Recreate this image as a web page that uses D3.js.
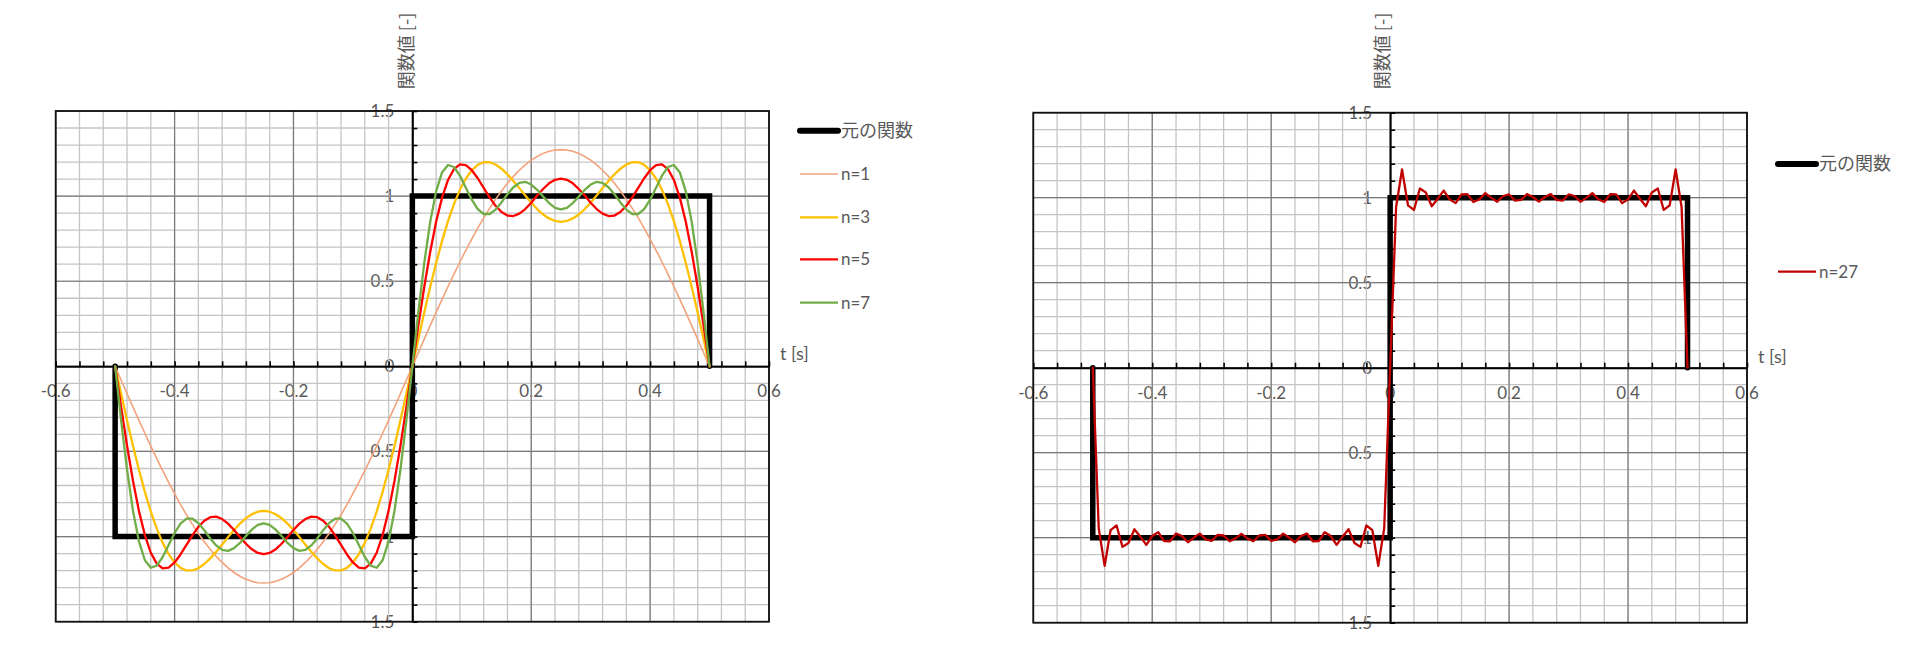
<!DOCTYPE html>
<html><head><meta charset="utf-8">
<script src="https://cdn.jsdelivr.net/npm/d3@7/dist/d3.min.js"></script>
<style>
body{margin:0;background:#fff;}
text{font-family:Lato,"Noto Sans CJK JP",sans-serif;fill:#595959;}
.jp{font-family:"Noto Sans CJK JP",sans-serif;}
</style>
</head><body>
<svg id="c" width="1920" height="653"></svg>
<script>
// ---------------- data ----------------
const tValues = [-0.5,-0.49,-0.48,-0.47,-0.46,-0.45,-0.44,-0.43,-0.42,-0.41,-0.4,-0.39,-0.38,-0.37,-0.36,-0.35,-0.34,-0.33,-0.32,-0.31,-0.3,-0.29,-0.28,-0.27,-0.26,-0.25,-0.24,-0.23,-0.22,-0.21,-0.2,-0.19,-0.18,-0.17,-0.16,-0.15,-0.14,-0.13,-0.12,-0.11,-0.1,-0.09,-0.08,-0.07,-0.06,-0.05,-0.04,-0.03,-0.02,-0.01,
0,0.01,0.02,0.03,0.04,0.05,0.06,0.07,0.08,0.09,0.1,0.11,0.12,0.13,0.14,0.15,0.16,0.17,0.18,0.19,0.2,0.21,0.22,0.23,0.24,0.25,0.26,0.27,0.28,0.29,0.3,0.31,0.32,0.33,0.34,0.35,0.36,0.37,0.38,0.39,0.4,0.41,0.42,0.43,0.44,0.45,0.46,0.47,0.48,0.49,0.5];

const originalT = [-0.5,-0.5,0,0,0.5,0.5];
const originalY = [0,-1,-1,1,1,0];

const n1 = [0,-0.080,-0.160,-0.239,-0.317,-0.393,-0.469,-0.542,-0.613,-0.682,-0.748,-0.812,-0.872,-0.928,-0.981,-1.030,-1.075,-1.116,-1.152,-1.184,-1.211,-1.233,-1.251,-1.263,-1.271,-1.273,-1.271,-1.263,-1.251,-1.233,-1.211,-1.184,-1.152,-1.116,-1.075,-1.030,-0.981,-0.928,-0.872,-0.812,-0.748,-0.682,-0.613,-0.542,-0.469,-0.393,-0.317,-0.239,-0.160,-0.080,
0,0.080,0.160,0.239,0.317,0.393,0.469,0.542,0.613,0.682,0.748,0.812,0.872,0.928,0.981,1.030,1.075,1.116,1.152,1.184,1.211,1.233,1.251,1.263,1.271,1.273,1.271,1.263,1.251,1.233,1.211,1.184,1.152,1.116,1.075,1.030,0.981,0.928,0.872,0.812,0.748,0.682,0.613,0.542,0.469,0.393,0.317,0.239,0.160,0.080,0];

const n3 = [0,-0.159,-0.316,-0.466,-0.607,-0.737,-0.853,-0.953,-1.037,-1.103,-1.152,-1.184,-1.199,-1.199,-1.186,-1.161,-1.128,-1.089,-1.047,-1.003,-0.961,-0.924,-0.892,-0.869,-0.854,-0.849,-0.854,-0.869,-0.892,-0.924,-0.961,-1.003,-1.047,-1.089,-1.128,-1.161,-1.186,-1.199,-1.199,-1.184,-1.152,-1.103,-1.037,-0.953,-0.853,-0.737,-0.607,-0.466,-0.316,-0.159,
0,0.159,0.316,0.466,0.607,0.737,0.853,0.953,1.037,1.103,1.152,1.184,1.199,1.199,1.186,1.161,1.128,1.089,1.047,1.003,0.961,0.924,0.892,0.869,0.854,0.849,0.854,0.869,0.892,0.924,0.961,1.003,1.047,1.089,1.128,1.161,1.186,1.199,1.199,1.184,1.152,1.103,1.037,0.953,0.853,0.737,0.607,0.466,0.316,0.159,0];

const n5 = [0,-0.238,-0.466,-0.672,-0.849,-0.991,-1.095,-1.159,-1.187,-1.182,-1.152,-1.105,-1.049,-0.993,-0.943,-0.907,-0.886,-0.883,-0.897,-0.924,-0.961,-1.003,-1.042,-1.075,-1.096,-1.103,-1.096,-1.075,-1.042,-1.003,-0.961,-0.924,-0.897,-0.883,-0.886,-0.907,-0.943,-0.993,-1.049,-1.105,-1.152,-1.182,-1.187,-1.159,-1.095,-0.991,-0.849,-0.672,-0.466,-0.238,
0,0.238,0.466,0.672,0.849,0.991,1.095,1.159,1.187,1.182,1.152,1.105,1.049,0.993,0.943,0.907,0.886,0.883,0.897,0.924,0.961,1.003,1.042,1.075,1.096,1.103,1.096,1.075,1.042,1.003,0.961,0.924,0.897,0.883,0.886,0.907,0.943,0.993,1.049,1.105,1.152,1.182,1.187,1.159,1.095,0.991,0.849,0.672,0.466,0.238,0];

const n7 = [0,-0.316,-0.606,-0.848,-1.028,-1.139,-1.183,-1.171,-1.120,-1.049,-0.979,-0.924,-0.895,-0.895,-0.921,-0.963,-1.011,-1.052,-1.078,-1.084,-1.068,-1.037,-0.997,-0.959,-0.931,-0.922,-0.931,-0.959,-0.997,-1.037,-1.068,-1.084,-1.078,-1.052,-1.011,-0.963,-0.921,-0.895,-0.895,-0.924,-0.979,-1.049,-1.120,-1.171,-1.183,-1.139,-1.028,-0.848,-0.606,-0.316,
0,0.316,0.606,0.848,1.028,1.139,1.183,1.171,1.120,1.049,0.979,0.924,0.895,0.895,0.921,0.963,1.011,1.052,1.078,1.084,1.068,1.037,0.997,0.959,0.931,0.922,0.931,0.959,0.997,1.037,1.068,1.084,1.078,1.052,1.011,0.963,0.921,0.895,0.895,0.924,0.979,1.049,1.120,1.171,1.183,1.139,1.028,0.848,0.606,0.316,0];

const n27 = [0,-0.945,-1.166,-0.955,-0.928,-1.054,-1.031,-0.950,-0.994,-1.042,-0.990,-0.968,-1.020,-1.021,-0.975,-0.991,-1.027,-0.999,-0.976,-1.010,-1.019,-0.983,-0.987,-1.021,-1.004,-0.977,-1.004,-1.021,-0.987,-0.983,-1.019,-1.010,-0.976,-0.999,-1.027,-0.991,-0.975,-1.021,-1.020,-0.968,-0.990,-1.042,-0.994,-0.950,-1.031,-1.054,-0.928,-0.955,-1.166,-0.945,
0,0.945,1.166,0.955,0.928,1.054,1.031,0.950,0.994,1.042,0.990,0.968,1.020,1.021,0.975,0.991,1.027,0.999,0.976,1.010,1.019,0.983,0.987,1.021,1.004,0.977,1.004,1.021,0.987,0.983,1.019,1.010,0.976,0.999,1.027,0.991,0.975,1.021,1.020,0.968,0.990,1.042,0.994,0.950,1.031,1.054,0.928,0.955,1.166,0.945,0];

const xTickValues = [-0.6,-0.4,-0.2,0,0.2,0.4,0.6];
const xTickLabels = ["-0.6","-0.4","-0.2","0","0.2","0.4","0.6"];
const yTickValues = [1.5,1,0.5,0,-0.5,-1,-1.5];
const yTickLabels = ["1.5","1","0.5","0","0.5","1","1.5"];

const leftNames = ["元の関数","n=1","n=3","n=5","n=7"];
const rightNames = ["元の関数","n=27"];
const yTitle = "関数値 [-]";
const xTitle = "t [s]";

// ---------------- layout / style ----------------
const svg = d3.select("#c");
const minorX = d3.range(-15,16).map(i=>+(i*0.04).toFixed(2));
const minorY = d3.range(-15,16).map(i=>+(i*0.1).toFixed(1));

const charts = [
  {left:55.7,right:769,top:111,bottom:621.7,
   series:[{t:originalT,v:originalY,color:"#000",w:5.5,name:leftNames[0],thick:true},
           {t:tValues,v:n1,color:"#F4A27C",w:1.6,name:leftNames[1]},
           {t:tValues,v:n3,color:"#FFC000",w:2.3,name:leftNames[2]},
           {t:tValues,v:n5,color:"#FF0000",w:2.3,name:leftNames[3]},
           {t:tValues,v:n7,color:"#70AD47",w:2.3,name:leftNames[4]}],
   legendY:[130.7,174,217.3,259.3,302.7], titleX:407, tx:780, ty:354},
  {left:1033.3,right:1747,top:112.7,bottom:622.7,
   series:[{t:originalT,v:originalY,color:"#000",w:5.5,name:rightNames[0],thick:true},
           {t:tValues,v:n27,color:"#C00000",w:2.3,name:rightNames[1]}],
   legendY:[164,271.7], titleX:1383, tx:1758, ty:357}
];

charts.forEach(cfg=>{
  const x = d3.scaleLinear().domain([-0.6,0.6]).range([cfg.left,cfg.right]);
  const y = d3.scaleLinear().domain([-1.5,1.5]).range([cfg.bottom,cfg.top]);
  const g = svg.append("g");

  // tick labels (underneath grid)
  g.append("g").selectAll("text").data(xTickValues).join("text")
    .attr("x",d=>x(d)).attr("y",y(0)+25).attr("dy","0.35em")
    .attr("text-anchor","middle").attr("font-size",17)
    .text((d,i)=>xTickLabels[i]);
  g.append("g").selectAll("text").data(yTickValues).join("text")
    .attr("x",x(0)-18).attr("y",d=>y(d)).attr("dy","0.35em")
    .attr("text-anchor","end").attr("font-size",17)
    .text((d,i)=>yTickLabels[i]);

  // minor grid
  const grid = g.append("g");
  grid.selectAll(".mx").data(minorX).join("line")
    .attr("x1",d=>x(d)).attr("x2",d=>x(d)).attr("y1",cfg.top).attr("y2",cfg.bottom)
    .attr("stroke","#c4c4c4").attr("stroke-width",1.3);
  grid.selectAll(".my").data(minorY).join("line")
    .attr("y1",d=>y(d)).attr("y2",d=>y(d)).attr("x1",cfg.left).attr("x2",cfg.right)
    .attr("stroke","#c4c4c4").attr("stroke-width",1.3);
  // major grid
  grid.selectAll(".Mx").data(xTickValues).join("line")
    .attr("x1",d=>x(d)).attr("x2",d=>x(d)).attr("y1",cfg.top).attr("y2",cfg.bottom)
    .attr("stroke","#7a7a7a").attr("stroke-width",1.2);
  grid.selectAll(".My").data(yTickValues).join("line")
    .attr("y1",d=>y(d)).attr("y2",d=>y(d)).attr("x1",cfg.left).attr("x2",cfg.right)
    .attr("stroke","#7a7a7a").attr("stroke-width",1.2);

  // border
  g.append("rect").attr("x",cfg.left).attr("y",cfg.top)
    .attr("width",cfg.right-cfg.left).attr("height",cfg.bottom-cfg.top)
    .attr("fill","none").attr("stroke","#111").attr("stroke-width",1.8);

  // axes
  const ax = g.append("g").attr("transform",`translate(0,${y(0)})`)
    .call(d3.axisTop(x).tickValues(minorX).tickSize(5).tickSizeOuter(0).tickFormat(""));
  ax.select(".domain").attr("stroke","#000").attr("stroke-width",2);
  ax.selectAll(".tick line").attr("stroke","#000").attr("stroke-width",1.6);
  const ay = g.append("g").attr("transform",`translate(${x(0)},0)`)
    .call(d3.axisRight(y).tickValues(minorY).tickSize(5).tickSizeOuter(0).tickFormat(""));
  ay.select(".domain").attr("stroke","#000").attr("stroke-width",2);
  ay.selectAll(".tick line").attr("stroke","#000").attr("stroke-width",1.6);

  // series
  cfg.series.forEach(s=>{
    const line = d3.line().x((d,i)=>x(s.t[i])).y((d,i)=>y(s.v[i]));
    g.append("path").datum(s.v).attr("d",line)
      .attr("fill","none").attr("stroke",s.color).attr("stroke-width",s.w)
      .attr("stroke-linejoin",s.thick?"miter":"round")
      .attr("stroke-linecap","round");
  });

  // legend
  const lx0 = cfg.right+31, lx1 = cfg.right+69;
  cfg.series.forEach((s,i)=>{
    const ly = cfg.legendY[i];
    g.append("line").attr("x1",lx0).attr("x2",lx1).attr("y1",ly).attr("y2",ly)
      .attr("stroke",s.color).attr("stroke-width",s.thick?6:s.w)
      .attr("stroke-linecap",s.thick?"round":"butt");
    g.append("text").attr("x",lx1+3).attr("y",ly).attr("dy","0.35em")
      .attr("font-size",s.thick?18:17).attr("class",s.thick?"jp":null)
      .text(s.name);
  });

  // axis titles
  g.append("text").attr("class","jp").attr("font-size",18)
    .attr("transform",`translate(${cfg.titleX},51) rotate(-90)`)
    .attr("text-anchor","middle").attr("dy","0.35em").text(yTitle);
  g.append("text").attr("x",cfg.tx).attr("y",cfg.ty).attr("dy","0.35em")
    .attr("font-size",18).text(xTitle);
});
</script>
</body></html>
